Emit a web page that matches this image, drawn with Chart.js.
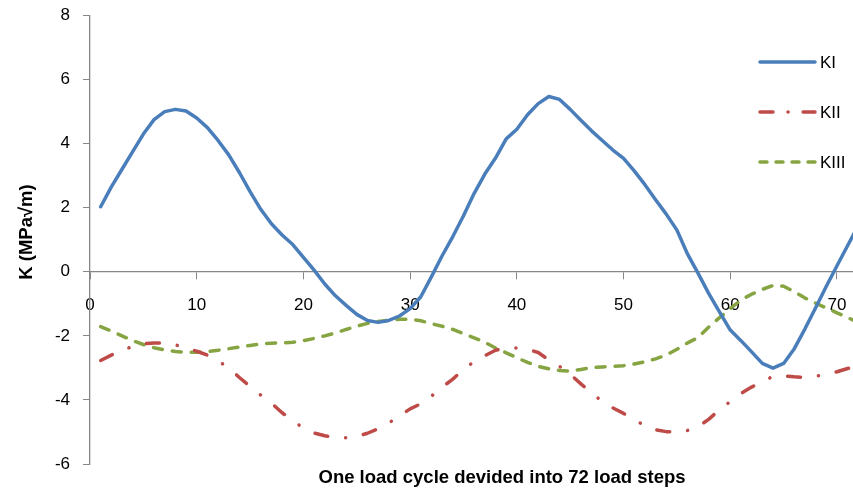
<!DOCTYPE html>
<html>
<head>
<meta charset="utf-8">
<script src="https://cdn.jsdelivr.net/npm/chart.js@4/dist/chart.umd.min.js"></script>
<style>
  html, body { margin: 0; padding: 0; background: #ffffff; overflow: hidden; }
  #c { display: block; }
</style>
</head>
<body>
<canvas id="c" width="853" height="493"></canvas>
<script>
// ---- data ----
const steps = [1,2,3,4,5,6,7,8,9,10,11,12,13,14,15,16,17,18,19,20,21,22,23,24,25,26,27,28,29,30,31,32,33,34,35,36,
               37,38,39,40,41,42,43,44,45,46,47,48,49,50,51,52,53,54,55,56,57,58,59,60,61,62,63,64,65,66,67,68,69,70,71,72];
const KI = [2.03,2.65,3.2,3.75,4.3,4.75,5.0,5.07,5.02,4.8,4.5,4.1,3.65,3.1,2.5,1.95,1.5,1.15,0.85,0.45,0.05,-0.38,-0.75,-1.05,
            -1.33,-1.52,-1.58,-1.52,-1.38,-1.15,-0.78,-0.15,0.5,1.1,1.75,2.45,3.05,3.55,4.15,4.45,4.9,5.25,5.47,5.38,5.07,4.73,
            4.4,4.1,3.8,3.54,3.15,2.72,2.25,1.8,1.3,0.55,-0.06,-0.69,-1.26,-1.82,-2.15,-2.5,-2.86,-3.01,-2.86,-2.4,-1.78,-1.12,
            -0.45,0.19,0.82,1.45];
const KII = [-2.77,-2.6,-2.45,-2.33,-2.25,-2.22,-2.23,-2.28,-2.38,-2.48,-2.6,-2.78,-3.0,-3.3,-3.58,-3.85,-4.1,-4.4,-4.65,-4.88,
             -5.03,-5.12,-5.18,-5.18,-5.14,-5.04,-4.9,-4.72,-4.5,-4.28,-4.12,-3.88,-3.6,-3.35,-3.05,-2.8,-2.62,-2.45,-2.38,-2.38,
             -2.42,-2.52,-2.75,-2.95,-3.2,-3.5,-3.77,-4.05,-4.25,-4.42,-4.62,-4.8,-4.93,-4.99,-5.0,-4.95,-4.83,-4.6,-4.3,-4.05,
             -3.8,-3.6,-3.42,-3.27,-3.25,-3.28,-3.3,-3.26,-3.2,-3.12,-3.02,-2.92];
const KIII = [-1.71,-1.85,-2.0,-2.15,-2.27,-2.37,-2.44,-2.49,-2.51,-2.51,-2.49,-2.45,-2.4,-2.35,-2.3,-2.25,-2.23,-2.22,-2.2,-2.15,
              -2.08,-2.0,-1.91,-1.8,-1.7,-1.61,-1.55,-1.51,-1.48,-1.48,-1.53,-1.62,-1.7,-1.8,-1.93,-2.06,-2.2,-2.38,-2.53,-2.68,
              -2.83,-2.95,-3.03,-3.08,-3.1,-3.05,-2.99,-2.97,-2.95,-2.93,-2.88,-2.81,-2.72,-2.6,-2.42,-2.22,-2.05,-1.72,-1.43,-1.15,
              -0.88,-0.7,-0.55,-0.43,-0.45,-0.62,-0.82,-0.98,-1.13,-1.28,-1.43,-1.58];
const seriesNames = ['KI', 'KII', 'KIII'];
const xTickValues = [0, 10, 20, 30, 40, 50, 60, 70];
const yTickValues = [-6, -4, -2, 0, 2, 4, 6, 8];
const xTitle = 'One load cycle devided into 72 load steps';
const yTitle = 'K (MPa\u221Am)';

// ---- styles ----
const FONT = '"Liberation Sans", Arial, sans-serif';
const colors = ['#4a7ebb', '#be4b48', '#86a542'];
const dashes = [[], [13, 18, 0.1, 18], [9, 10]];
const widths = [3.5, 3.5, 3.5];
const axisColor = '#868686';

function pts(vals) { return steps.map((s, i) => ({ x: s, y: vals[i] })); }
function zeroPad(s) { s.paddingLeft = 0; s.paddingRight = 0; s.paddingTop = 0; s.paddingBottom = 0; }

const titlesAndLegend = {
  id: 'titlesAndLegend',
  afterDraw(chart) {
    const ctx = chart.ctx;
    ctx.save();
    // x axis title
    ctx.fillStyle = '#000';
    ctx.font = 'bold 18.5px ' + FONT;
    ctx.textAlign = 'center';
    ctx.textBaseline = 'middle';
    ctx.fillText(xTitle, 502, 478);
    // y axis title
    ctx.save();
    ctx.translate(27, 232);
    ctx.rotate(-Math.PI / 2);
    ctx.font = 'bold 18.5px ' + FONT;
    ctx.fillText(yTitle, 0, 0);
    ctx.restore();
    // legend
    const legY = [62, 112, 162];
    ctx.font = '17px ' + FONT;
    ctx.textAlign = 'left';
    for (let i = 0; i < seriesNames.length; i++) {
      ctx.beginPath();
      ctx.strokeStyle = colors[i];
      ctx.lineWidth = widths[i];
      ctx.lineCap = 'round';
      ctx.setLineDash(i === 1 ? [13, 15, 0.1, 15] : i === 2 ? [7, 9] : []);
      ctx.moveTo(760, legY[i]);
      ctx.lineTo(815, legY[i]);
      ctx.stroke();
      ctx.setLineDash([]);
      ctx.fillStyle = '#000';
      ctx.fillText(seriesNames[i], 820, legY[i] + 1);
    }
    ctx.restore();
  }
};

new Chart(document.getElementById('c'), {
  type: 'line',
  data: {
    datasets: seriesNames.map((name, i) => ({
      label: name,
      data: pts([KI, KII, KIII][i]),
      borderColor: colors[i],
      backgroundColor: colors[i],
      borderWidth: widths[i],
      borderDash: dashes[i],
      borderCapStyle: 'round',
      borderJoinStyle: 'round',
      pointRadius: 0,
      tension: 0,
      fill: false
    }))
  },
  options: {
    responsive: false,
    animation: false,
    layout: { padding: { left: 0, right: 0, top: 15.5, bottom: 29 } },
    plugins: { legend: { display: false }, tooltip: { enabled: false }, title: { display: false } },
    scales: {
      x: {
        type: 'linear',
        position: { y: 0 },
        min: 0,
        max: 71.5,
        afterBuildTicks: (s) => { s.ticks = xTickValues.map(v => ({ value: v })); },
        afterFit: (s) => { s.height = 0; zeroPad(s); },
        ticks: { color: '#000', font: { family: FONT, size: 17 }, padding: 16, maxRotation: 0, autoSkip: false },
        grid: { drawOnChartArea: false, drawTicks: true, tickLength: 7, color: axisColor, lineWidth: 1 },
        border: { color: axisColor, width: 1.3 }
      },
      y: {
        type: 'linear',
        min: -6,
        max: 8,
        afterBuildTicks: (s) => { s.ticks = yTickValues.map(v => ({ value: v })); },
        afterFit: (s) => { s.width = 90; zeroPad(s); },
        ticks: { color: '#000', font: { family: FONT, size: 17 }, padding: 13 },
        grid: { drawOnChartArea: false, drawTicks: true, tickLength: 7, color: axisColor, lineWidth: 1 },
        border: { color: axisColor, width: 1.3 }
      }
    }
  },
  plugins: [titlesAndLegend]
});
</script>
</body>
</html>
